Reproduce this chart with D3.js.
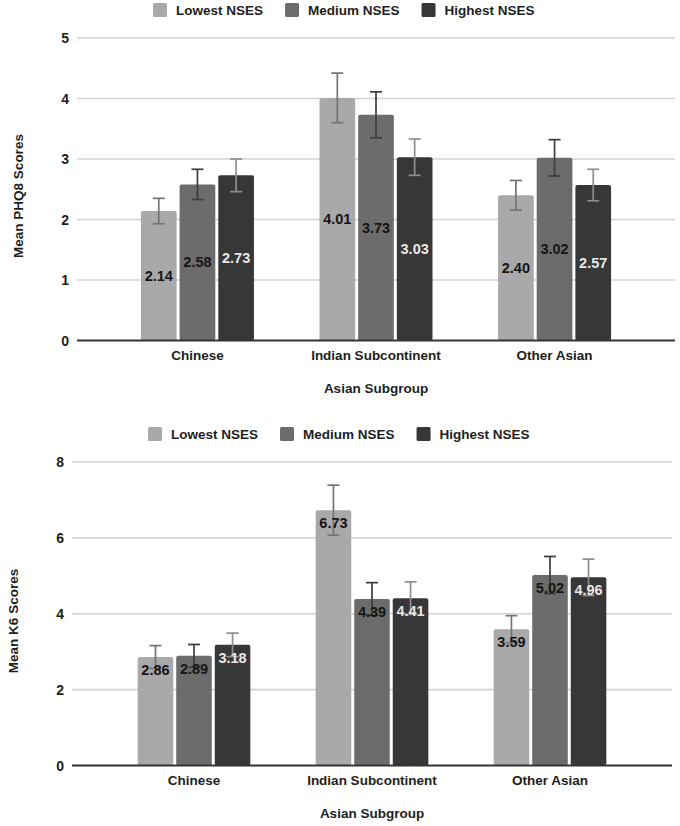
<!DOCTYPE html>
<html>
<head>
<meta charset="utf-8">
<script src="https://d3js.org/d3.v7.min.js"></script>
<style>
body { margin: 0; background: #fff; }
text { font-family: "Liberation Sans", Arial, sans-serif; fill: #1e1e1e; }
</style>
</head>
<body>
<div id="chart"></div>
<script>

// data
var categories = ["Chinese", "Indian Subcontinent", "Other Asian"];
var seriesNames = ["Lowest NSES", "Medium NSES", "Highest NSES"];

// one row per category, one value per series
var phq8Means  = [[2.14, 2.58, 2.73], [4.01, 3.73, 3.03], [2.40, 3.02, 2.57]];
var phq8Errors = [[0.21, 0.25, 0.27], [0.41, 0.38, 0.30], [0.245, 0.30, 0.26]];
var phq8Ticks  = [0, 1, 2, 3, 4, 5];

var k6Means  = [[2.86, 2.89, 3.18], [6.73, 4.39, 4.41], [3.59, 5.02, 4.96]];
var k6Errors = [[0.30, 0.30, 0.31], [0.66, 0.43, 0.43], [0.36, 0.49, 0.48]];
var k6Ticks  = [0, 2, 4, 6, 8];

var width = 680, height = 826;
var barColors   = ["#a9a9a9", "#6c6c6c", "#373737"];
var errColors   = ["#747474", "#3c3c3c", "#8e8e8e"];
var labelColors = ["#151515", "#151515", "#e8e8e8"];

var svg = d3.select("#chart")
  .append("svg")
    .attr("width", width)
    .attr("height", height);

function drawChart(o) {
  var g = svg.append("g");

  var y = d3.scaleLinear()
    .domain([0, d3.max(o.ticks)])
    .range([o.bottom, o.top]);

  var x = d3.scaleBand()
    .domain(categories)
    .range([o.left, o.right])
    .paddingInner(0.367)
    .paddingOuter(o.padOuter);

  var xs = d3.scaleBand()
    .domain(d3.range(seriesNames.length))
    .range([0, x.bandwidth()])
    .paddingInner(0.077);

  // gridlines
  g.selectAll("line.grid")
    .data(o.ticks.filter(function(t){ return t > 0; }))
    .enter().append("line")
      .attr("x1", o.left)
      .attr("x2", o.right)
      .attr("y1", function(d){ return y(d); })
      .attr("y2", function(d){ return y(d); })
      .attr("stroke", "#d3d3d3")
      .attr("stroke-width", 1.6);

  // y tick labels
  g.selectAll("text.tick")
    .data(o.ticks)
    .enter().append("text")
      .attr("x", o.left - 8)
      .attr("y", function(d){ return y(d) + 5; })
      .attr("text-anchor", "end")
      .attr("font-size", "14px")
      .attr("font-weight", "bold")
      .text(function(d){ return d; });

  var rows = [];
  o.means.forEach(function(vals, ci) {
    vals.forEach(function(v, si) {
      rows.push({cat: categories[ci], s: si, v: v, e: o.errors[ci][si]});
    });
  });

  // bars
  g.selectAll("rect.bar")
    .data(rows)
    .enter().append("rect")
      .attr("x", function(d){ return x(d.cat) + xs(d.s); })
      .attr("y", function(d){ return y(d.v); })
      .attr("width", xs.bandwidth())
      .attr("height", function(d){ return y(0) - y(d.v); })
      .attr("rx", 2)
      .attr("fill", function(d){ return barColors[d.s]; });

  // baseline
  g.append("line")
    .attr("x1", o.left).attr("x2", o.right)
    .attr("y1", y(0)).attr("y2", y(0))
    .attr("stroke", "#333")
    .attr("stroke-width", 1.8);

  // error bars
  var eb = g.selectAll("g.err")
    .data(rows)
    .enter().append("g")
      .attr("stroke", function(d){ return errColors[d.s]; })
      .attr("stroke-width", 1.7);
  eb.append("line")
    .attr("x1", function(d){ return x(d.cat) + xs(d.s) + xs.bandwidth() / 2; })
    .attr("x2", function(d){ return x(d.cat) + xs(d.s) + xs.bandwidth() / 2; })
    .attr("y1", function(d){ return y(d.v + d.e); })
    .attr("y2", function(d){ return y(d.v - d.e); });
  [1, -1].forEach(function(sign) {
    eb.append("line")
      .attr("x1", function(d){ return x(d.cat) + xs(d.s) + xs.bandwidth() / 2 - 6; })
      .attr("x2", function(d){ return x(d.cat) + xs(d.s) + xs.bandwidth() / 2 + 6; })
      .attr("y1", function(d){ return y(d.v + sign * d.e); })
      .attr("y2", function(d){ return y(d.v + sign * d.e); });
  });

  // value labels
  g.selectAll("text.val")
    .data(rows)
    .enter().append("text")
      .attr("x", function(d){ return x(d.cat) + xs(d.s) + xs.bandwidth() / 2; })
      .attr("y", function(d){
        return o.labelMid ? (y(d.v) + y(0)) / 2 + 5 : y(d.v) + 18;
      })
      .attr("text-anchor", "middle")
      .attr("font-size", "14.5px")
      .attr("font-weight", "bold")
      .style("fill", function(d){ return labelColors[d.s]; })
      .text(function(d){ return d3.format(".2f")(d.v); });

  // category labels
  g.selectAll("text.cat")
    .data(categories)
    .enter().append("text")
      .attr("x", function(d){ return x(d) + x.bandwidth() / 2; })
      .attr("y", y(0) + 19)
      .attr("text-anchor", "middle")
      .attr("font-size", "13.5px")
      .attr("font-weight", "bold")
      .text(function(d){ return d; });

  // x axis title
  g.append("text")
    .attr("x", (o.left + o.right) / 2)
    .attr("y", o.xTitleY)
    .attr("text-anchor", "middle")
    .attr("font-size", "13.5px")
    .attr("font-weight", "bold")
    .text("Asian Subgroup");

  // y axis title
  g.append("text")
    .attr("transform", "translate(" + o.yTitleX + "," + o.yTitleMid + ") rotate(-90)")
    .attr("text-anchor", "middle")
    .attr("font-size", "13.5px")
    .attr("font-weight", "bold")
    .text(o.yTitle);

  // legend
  var lx = o.legendX;
  seriesNames.forEach(function(name, i) {
    g.append("rect")
      .attr("x", lx).attr("y", o.legendY - 7)
      .attr("width", 14).attr("height", 14)
      .attr("rx", 1.5)
      .attr("fill", barColors[i]);
    var t = g.append("text")
      .attr("x", lx + 23)
      .attr("y", o.legendY + 5)
      .attr("font-size", "13.5px")
      .attr("font-weight", "bold")
      .text(name);
    lx += 23 + t.node().getComputedTextLength() + 22;
  });
}

drawChart({
  means: phq8Means, errors: phq8Errors, ticks: phq8Ticks,
  top: 38, bottom: 340.5, left: 77, right: 675, padOuter: 0.358,
  labelMid: true, xTitleY: 393, yTitle: "Mean PHQ8 Scores",
  yTitleX: 23, yTitleMid: 196, legendX: 153, legendY: 10
});

drawChart({
  means: k6Means, errors: k6Errors, ticks: k6Ticks,
  top: 462, bottom: 765.5, left: 72, right: 672, padOuter: 0.369,
  labelMid: false, xTitleY: 818, yTitle: "Mean K6 Scores",
  yTitleX: 18, yTitleMid: 621, legendX: 148, legendY: 434
});

</script>
</body>
</html>
